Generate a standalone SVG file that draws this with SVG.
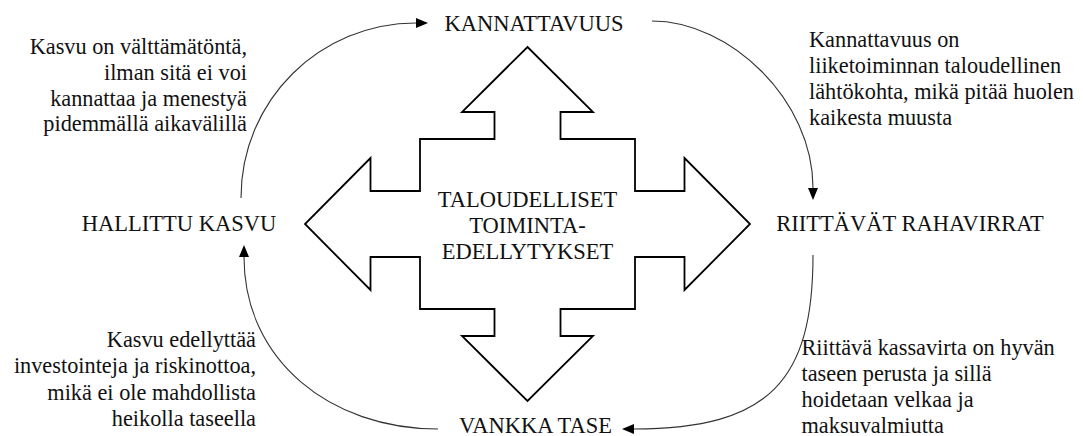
<svg xmlns="http://www.w3.org/2000/svg" width="1083" height="436" viewBox="0 0 1083 436">
<defs>
<style>
.t{font-family:'Liberation Serif','Tinos','Times New Roman','DejaVu Serif',serif;fill:#111;}
.lbl{font-size:22.5px;}
.desc{font-size:22.3px;}
.mid{text-anchor:middle;}
.end{text-anchor:end;}
.arc{fill:none;stroke:#333;stroke-width:1.1;}
.cross{fill:#fff;stroke:#000;stroke-width:1.8;stroke-linejoin:miter;}
</style>
<marker id="ah" viewBox="0 0 12 10" refX="0" refY="5" markerWidth="12" markerHeight="10" markerUnits="userSpaceOnUse" orient="auto">
<path d="M0,0 L12,5 L0,10 Z" fill="#000"/>
</marker>
</defs>
<rect width="1083" height="436" fill="#fff"/>
<g font-family="Liberation Serif, Tinos, Times New Roman, DejaVu Serif, serif">
<g id="center-node">
<polygon class="cross" points="527.5,47 593,112 560.5,112 560.5,139 635,139 635,191 684.5,191 684.5,158 750,224 684.5,290 684.5,257 635,257 635,309 560.5,309 560.5,336 593,336 527.5,401 462,336 494.5,336 494.5,309 420,309 420,257 370.5,257 370.5,290 305,224 370.5,158 370.5,191 420,191 420,139 494.5,139 494.5,112 462,112"/>
<text class="t lbl mid" x="527.5" y="207">TALOUDELLISET</text>
<text class="t lbl mid" x="527.5" y="233">TOIMINTA-</text>
<text class="t lbl mid" x="527.5" y="259">EDELLYTYKSET</text>
</g>
<g id="node-kannattavuus"><text class="t lbl mid" x="534" y="31">KANNATTAVUUS</text></g>
<g id="node-rahavirrat"><text class="t lbl mid" x="910" y="231">RIITTÄVÄT RAHAVIRRAT</text></g>
<g id="node-tase"><text class="t lbl mid" x="535.5" y="433">VANKKA TASE</text></g>
<g id="node-kasvu"><text class="t lbl mid" x="179" y="231">HALLITTU KASVU</text></g>
<g id="connectors">
<path class="arc" d="M241,198 C241,100 320,23 416,23" marker-end="url(#ah)"/>
<path class="arc" d="M652,21 C730,21 813,100 813,188" marker-end="url(#ah)"/>
<path class="arc" d="M813,255 C813,380 770,429 634,429" marker-end="url(#ah)"/>
<path class="arc" d="M438,429 C330,429 244,360 244,257" marker-end="url(#ah)"/>
</g>
<g id="desc-top-left">
<text class="t desc end" x="247" y="54">Kasvu on välttämätöntä,</text>
<text class="t desc end" x="247" y="80">ilman sitä ei voi</text>
<text class="t desc end" x="247" y="105.5">kannattaa ja menestyä</text>
<text class="t desc end" x="247" y="131">pidemmällä aikavälillä</text>
</g>
<g id="desc-top-right">
<text class="t desc" x="809" y="47">Kannattavuus on</text>
<text class="t desc" x="809" y="73">liiketoiminnan taloudellinen</text>
<text class="t desc" x="809" y="99">lähtökohta, mikä pitää huolen</text>
<text class="t desc" x="809" y="125">kaikesta muusta</text>
</g>
<g id="desc-bottom-left">
<text class="t desc end" x="256" y="347">Kasvu edellyttää</text>
<text class="t desc end" x="256" y="373">investointeja ja riskinottoa,</text>
<text class="t desc end" x="256" y="399.5">mikä ei ole mahdollista</text>
<text class="t desc end" x="256" y="426">heikolla taseella</text>
</g>
<g id="desc-bottom-right">
<text class="t desc" x="801.5" y="355">Riittävä kassavirta on hyvän</text>
<text class="t desc" x="801.5" y="381">taseen perusta ja sillä</text>
<text class="t desc" x="801.5" y="407">hoidetaan velkaa ja</text>
<text class="t desc" x="801.5" y="433">maksuvalmiutta</text>
</g>
</g>
</svg>
